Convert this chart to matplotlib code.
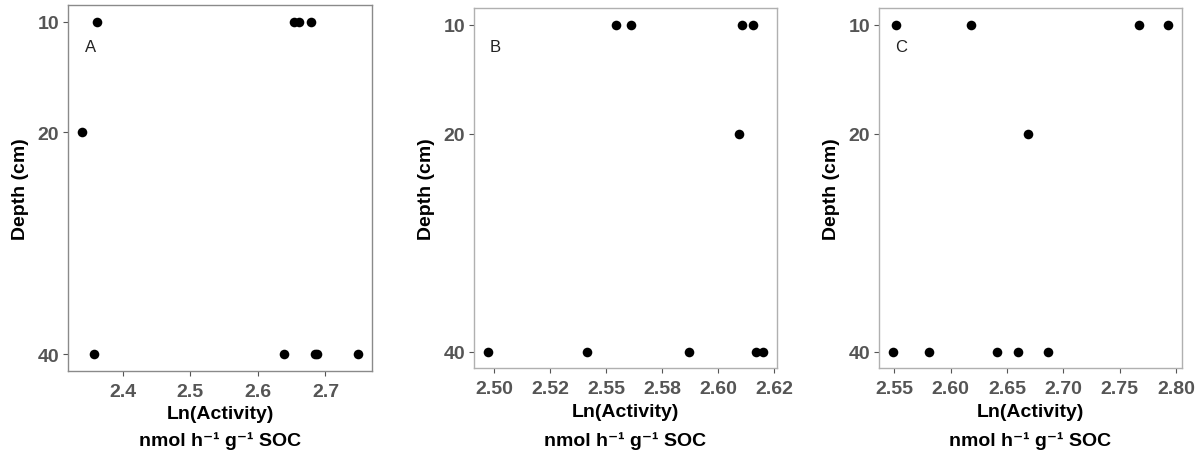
import matplotlib
matplotlib.use("Agg")
import matplotlib.pyplot as plt

plt.rcParams['font.family'] = ['Liberation Sans', 'DejaVu Sans']

# Ln(activity) per depth, three sites
depth_A = [10, 10, 10, 10, 20, 40, 40, 40, 40, 40]
act_A = [2.362, 2.653, 2.661, 2.678, 2.340, 2.358, 2.639, 2.684, 2.688, 2.748]

depth_B = [10, 10, 10, 10, 20, 40, 40, 40, 40, 40]
act_B = [2.5547, 2.5613, 2.6105, 2.6157, 2.6094, 2.4973, 2.5414, 2.5869, 2.6168, 2.6200]

depth_C = [10, 10, 10, 10, 20, 40, 40, 40, 40, 40]
act_C = [2.5515, 2.6175, 2.7669, 2.7927, 2.6685, 2.5485, 2.5804, 2.6408, 2.6594, 2.6866]

ticks_A = [2.4, 2.5, 2.6, 2.7]
ticklabels_A = ["2.4", "2.5", "2.6", "2.7"]
ticks_B = [2.500, 2.525, 2.550, 2.575, 2.600, 2.625]
ticklabels_B = ["2.50", "2.52", "2.55", "2.58", "2.60", "2.62"]
ticks_C = [2.55, 2.60, 2.65, 2.70, 2.75, 2.80]
ticklabels_C = ["2.55", "2.60", "2.65", "2.70", "2.75", "2.80"]

depth_ticks = [10, 20, 40]
panel_labels = ["A", "B", "C"]
label_pos = [(2.353, 12.2), (2.5008, 12.0), (2.556, 12.0)]

fig = plt.figure(figsize=(12.01, 4.6), dpi=100)

boxes = [
    [68.3, 6.0, 371.7, 371.7],
    [474.0, 9.3, 776.7, 369.3],
    [879.0, 9.3, 1181.7, 369.3],
]
spine_cols = ['#8a8a8a', '#b0b0b0', '#b0b0b0']

panels = [(act_A, depth_A, ticks_A, ticklabels_A),
          (act_B, depth_B, ticks_B, ticklabels_B),
          (act_C, depth_C, ticks_C, ticklabels_C)]

W, H = 1201.0, 460.0
for i, (x, y, tks, tkl) in enumerate(panels):
    l, t, r, b = boxes[i]
    ax = fig.add_axes([l / W, 1 - b / H, (r - l) / W, (b - t) / H])
    ax.scatter(x, y, s=48, color='black', zorder=3, linewidths=0)

    rng = max(x) - min(x)
    ax.set_xlim(min(x) - 0.05 * rng, max(x) + 0.05 * rng)
    ax.set_ylim(41.5, 8.5)

    ax.set_xticks(tks)
    ax.set_xticklabels(tkl)
    ax.set_yticks(depth_ticks)
    ax.set_yticklabels([str(d) for d in depth_ticks])
    ax.tick_params(axis='both', length=3.5, width=0.8, color='#555555',
                   labelsize=14, labelcolor='#555555', pad=3)
    ax.tick_params(axis='x', pad=5)
    for lab in ax.get_xticklabels() + ax.get_yticklabels():
        lab.set_fontweight('bold')

    for s in ax.spines.values():
        s.set_color(spine_cols[i])
        s.set_linewidth(1.0)

    ax.set_ylabel("Depth (cm)", fontsize=14, fontweight='bold', labelpad=6)
    ax.set_xlabel("Ln(Activity)", fontsize=14, fontweight='bold', labelpad=4)

    cx = (l + r) / 2 / W
    fig.text(cx, 1 - 441.0 / H, "nmol h\u207b\u00b9 g\u207b\u00b9 SOC", ha='center', va='center',
             fontsize=14, fontweight='bold')

    lx, ly = label_pos[i]
    ax.text(lx, ly, panel_labels[i], fontsize=12, ha='center', va='center', color='#222222')

fig.savefig("out.png", dpi=100)
